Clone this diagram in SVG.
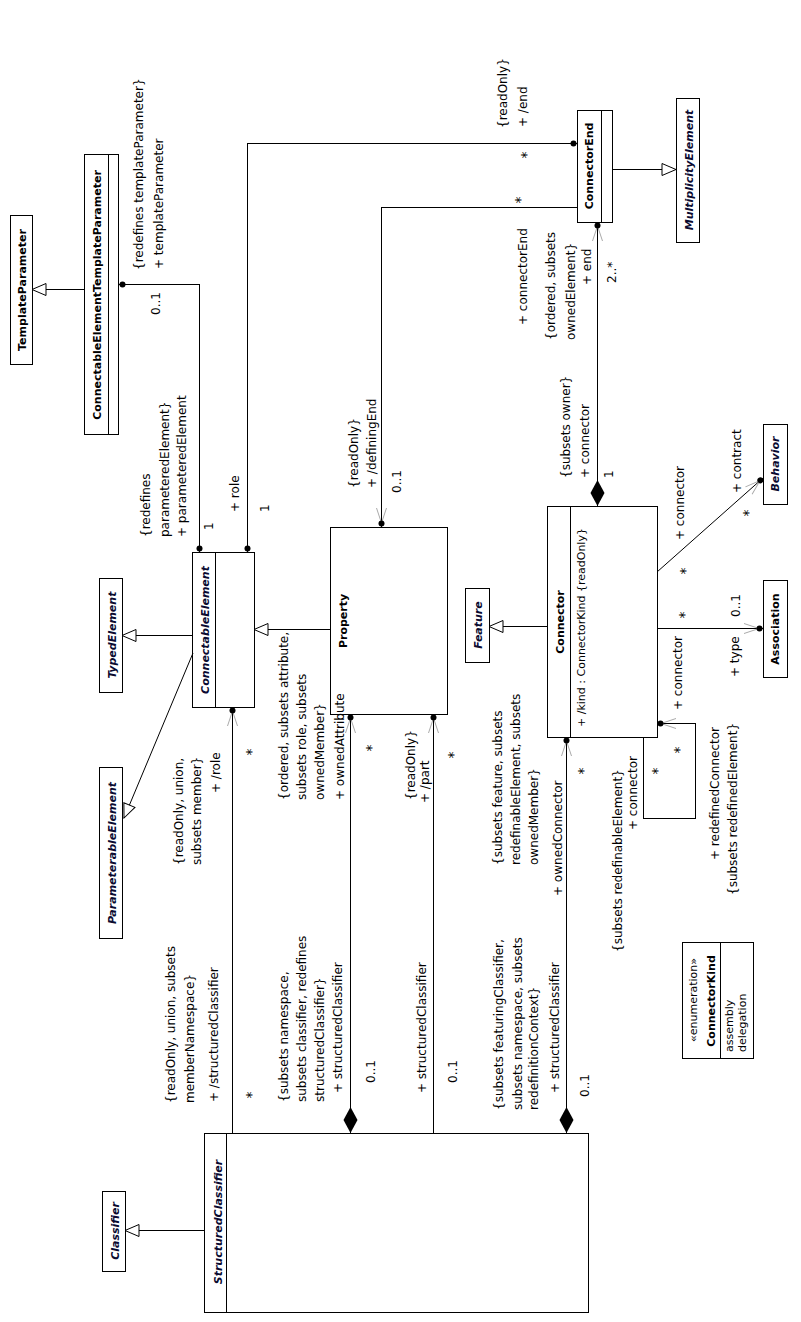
<svg xmlns="http://www.w3.org/2000/svg" width="801" height="1322" viewBox="0 0 801 1322">
<style>
.box{fill:#fff;stroke:#000;stroke-width:1;shape-rendering:crispEdges}
.dv{stroke:#000;stroke-width:1;shape-rendering:crispEdges}
.ln{fill:none;stroke:#000;stroke-width:1}
.cr{shape-rendering:crispEdges}
.nm{font-family:"DejaVu Sans",sans-serif;font-size:11px;font-weight:bold;text-anchor:middle;fill:#000}
.ab{font-style:italic;fill:#0a0a30}
.at{font-family:"DejaVu Sans",sans-serif;font-size:11px;fill:#000}
.lb{font-family:"DejaVu Sans",sans-serif;font-size:12px;fill:#000}
.mid{text-anchor:middle}
.ast{font-size:14px;text-anchor:middle}
</style>
<defs>
<marker id="gen" viewBox="-15 -7 16 14" refX="0" refY="0" markerWidth="16" markerHeight="14" markerUnits="userSpaceOnUse" orient="auto-start-reverse">
<path d="M0,0 L-14,-6 L-14,6 Z" fill="#fff" stroke="#000" stroke-width="1"/>
</marker>
<marker id="dia" viewBox="-27 -8 28 16" refX="0" refY="0" markerWidth="28" markerHeight="16" markerUnits="userSpaceOnUse" orient="auto-start-reverse">
<path d="M0,0 L-13,-7 L-26,0 L-13,7 Z" fill="#000"/>
</marker>
<marker id="dot" viewBox="-8 -4 9 8" refX="0" refY="0" markerWidth="9" markerHeight="8" markerUnits="userSpaceOnUse" orient="auto-start-reverse">
<circle cx="-3.5" cy="0" r="3" fill="#000"/>
</marker>
<marker id="nav" viewBox="-20 -6 21 12" refX="0" refY="0" markerWidth="21" markerHeight="12" markerUnits="userSpaceOnUse" orient="auto-start-reverse">
<path d="M-19,-5 L-4,0 L-19,5" fill="none" stroke="#aaa" stroke-width="1"/>
<circle cx="-3.5" cy="0" r="3" fill="#000"/>
</marker>
</defs>
<rect width="801" height="1322" fill="#fff"/>

<!-- classes -->
<g id="TemplateParameter">
<rect class="box" x="10.5" y="215.5" width="22" height="149"/>
<text class="nm" transform="translate(26,290) rotate(-90)">TemplateParameter</text>
</g>
<g id="ConnectableElementTemplateParameter">
<rect class="box" x="84.5" y="154.5" width="34" height="280"/>
<line class="dv" x1="108.5" y1="154.5" x2="108.5" y2="434.5"/>
<text class="nm" transform="translate(101,295) rotate(-90)">ConnectableElementTemplateParameter</text>
</g>
<g id="TypedElement">
<rect class="box" x="99.5" y="578.5" width="23" height="114"/>
<text class="nm ab" transform="translate(116,635) rotate(-90)">TypedElement</text>
</g>
<g id="ParameterableElement">
<rect class="box" x="99.5" y="767.5" width="23" height="171"/>
<text class="nm ab" transform="translate(116,853) rotate(-90)">ParameterableElement</text>
</g>
<g id="ConnectableElement">
<rect class="box" x="192.5" y="552.5" width="62" height="155"/>
<line class="dv" x1="215.5" y1="552.5" x2="215.5" y2="707.5"/>
<text class="nm ab" transform="translate(209,630) rotate(-90)">ConnectableElement</text>
</g>
<g id="Property">
<rect class="box" x="330.5" y="527.5" width="117" height="187"/>
<text class="nm" transform="translate(347,621) rotate(-90)">Property</text>
</g>
<g id="Feature">
<rect class="box" x="465.5" y="588.5" width="24" height="74"/>
<text class="nm ab" transform="translate(482,625) rotate(-90)">Feature</text>
</g>
<g id="Connector">
<rect class="box" x="547.5" y="506.5" width="110" height="231"/>
<line class="dv" x1="570.5" y1="506.5" x2="570.5" y2="737.5"/>
<text class="nm" transform="translate(564,622) rotate(-90)">Connector</text>
<text class="at" transform="translate(585,727) rotate(-90)">+ /kind : ConnectorKind {readOnly}</text>
</g>
<g id="ConnectorEnd">
<rect class="box" x="577.5" y="110.5" width="35" height="112"/>
<line class="dv" x1="601.5" y1="110.5" x2="601.5" y2="222.5"/>
<text class="nm" transform="translate(593,166) rotate(-90)">ConnectorEnd</text>
</g>
<g id="MultiplicityElement">
<rect class="box" x="676.5" y="98.5" width="23" height="144"/>
<text class="nm ab" transform="translate(693,170) rotate(-90)">MultiplicityElement</text>
</g>
<g id="Behavior">
<rect class="box" x="763.5" y="424.5" width="24" height="80"/>
<text class="nm ab" transform="translate(779,464) rotate(-90)">Behavior</text>
</g>
<g id="Association">
<rect class="box" x="763.5" y="580.5" width="24" height="97"/>
<text class="nm" transform="translate(779,629) rotate(-90)">Association</text>
</g>
<g id="StructuredClassifier">
<rect class="box" x="204.5" y="1133.5" width="384" height="179"/>
<line class="dv" x1="226.5" y1="1133.5" x2="226.5" y2="1312.5"/>
<text class="nm ab" transform="translate(222,1222) rotate(-90)">StructuredClassifier</text>
</g>
<g id="Classifier">
<rect class="box" x="102.5" y="1191.5" width="23" height="80"/>
<text class="nm ab" transform="translate(119,1231) rotate(-90)">Classifier</text>
</g>
<g id="ConnectorKind">
<rect class="box" x="682.5" y="942.5" width="71" height="116"/>
<line class="dv" x1="720.5" y1="942.5" x2="720.5" y2="1058.5"/>
<text class="at mid" transform="translate(697,1000) rotate(-90)">«enumeration»</text>
<text class="nm" transform="translate(715,1001) rotate(-90)">ConnectorKind</text>
<text class="at" transform="translate(733,1052) rotate(-90)">assembly</text>
<text class="at" transform="translate(746,1052) rotate(-90)">delegation</text>
</g>

<!-- connectors -->
<g id="connectors">
<!-- generalizations -->
<path class="ln cr" d="M84,289.5 H32" marker-end="url(#gen)"/>
<path class="ln cr" d="M192,635.5 H122" marker-end="url(#gen)"/>
<path class="ln" d="M193,653 L124,818" marker-end="url(#gen)"/>
<path class="ln cr" d="M330,629.5 H254" marker-end="url(#gen)"/>
<path class="ln cr" d="M547,626.5 H489" marker-end="url(#gen)"/>
<path class="ln cr" d="M612,169.5 H676" marker-end="url(#gen)"/>
<path class="ln cr" d="M204,1230.5 H125" marker-end="url(#gen)"/>
<!-- associations -->
<path class="ln cr" d="M119,284.5 H199.5 V552" marker-start="url(#dot)" marker-end="url(#dot)"/>
<path class="ln cr" d="M247.5,552 V143.5 H577" marker-start="url(#dot)" marker-end="url(#dot)"/>
<path class="ln cr" d="M577,207.5 H381.5 V527" marker-end="url(#nav)"/>
<path class="ln cr" d="M232.5,1133 V707" marker-end="url(#nav)"/>
<path class="ln cr" d="M350.5,1133 V714" marker-start="url(#dia)" marker-end="url(#nav)"/>
<path class="ln cr" d="M433.5,1133 V714" marker-end="url(#nav)"/>
<path class="ln cr" d="M566.5,1133 V737" marker-start="url(#dia)" marker-end="url(#nav)"/>
<path class="ln cr" d="M597.5,506 V222" marker-start="url(#dia)" marker-end="url(#nav)"/>
<path class="ln" d="M657,572 L763,478" marker-end="url(#nav)"/>
<path class="ln cr" d="M657,628.5 H763" marker-end="url(#nav)"/>
<path class="ln cr" d="M643.5,737 V818.5 H695.5 V723.5 H657" marker-end="url(#nav)"/>

<!-- association end labels -->
<g class="lb">
<text transform="translate(143,270) rotate(-90)">{redefines templateParameter}</text>
<text transform="translate(163,269) rotate(-90)">+ templateParameter</text>
<text transform="translate(160,315) rotate(-90)">0..1</text>
<text transform="translate(150,537) rotate(-90)">{redefines</text>
<text transform="translate(169,537) rotate(-90)">parameteredElement}</text>
<text transform="translate(186,537) rotate(-90)">+ parameteredElement</text>
<text transform="translate(213,530) rotate(-90)">1</text>

<text transform="translate(239,512) rotate(-90)">+ role</text>
<text transform="translate(269,512) rotate(-90)">1</text>
<text transform="translate(507,128) rotate(-90)">{readOnly}</text>
<text transform="translate(527,127) rotate(-90)">+ /end</text>
<text class="ast" transform="translate(531,155) rotate(-90)">*</text>

<text class="ast" transform="translate(525,200) rotate(-90)">*</text>
<text transform="translate(527,325) rotate(-90)">+ connectorEnd</text>
<text transform="translate(358,488) rotate(-90)">{readOnly}</text>
<text transform="translate(376,488) rotate(-90)">+ /definingEnd</text>
<text transform="translate(401,493) rotate(-90)">0..1</text>

<text transform="translate(183,865) rotate(-90)">{readOnly, union,</text>
<text transform="translate(201,865) rotate(-90)">subsets member}</text>
<text transform="translate(220,793) rotate(-90)">+ /role</text>
<text class="ast" transform="translate(255.5,752) rotate(-90)">*</text>
<text transform="translate(175,1103) rotate(-90)">{readOnly, union, subsets</text>
<text transform="translate(194,1103) rotate(-90)">memberNamespace}</text>
<text transform="translate(218,1102) rotate(-90)">+ /structuredClassifier</text>
<text class="ast" transform="translate(255.5,1095) rotate(-90)">*</text>

<text transform="translate(288,800) rotate(-90)">{ordered, subsets attribute,</text>
<text transform="translate(306,800) rotate(-90)">subsets role, subsets</text>
<text transform="translate(324,800) rotate(-90)">ownedMember}</text>
<text transform="translate(344,800) rotate(-90)">+ ownedAttribute</text>
<text class="ast" transform="translate(375.5,748) rotate(-90)">*</text>
<text transform="translate(288,1102) rotate(-90)">{subsets namespace,</text>
<text transform="translate(306,1102) rotate(-90)">subsets classifier, redefines</text>
<text transform="translate(324,1102) rotate(-90)">structuredClassifier}</text>
<text transform="translate(342,1093) rotate(-90)">+ structuredClassifier</text>
<text transform="translate(375,1083) rotate(-90)">0..1</text>

<text transform="translate(415,800) rotate(-90)">{readOnly}</text>
<text transform="translate(429,803) rotate(-90)">+ /part</text>
<text class="ast" transform="translate(458,755) rotate(-90)">*</text>
<text transform="translate(426,1093) rotate(-90)">+ structuredClassifier</text>
<text transform="translate(457,1083) rotate(-90)">0..1</text>

<text transform="translate(502,865) rotate(-90)">{subsets feature, subsets</text>
<text transform="translate(520,865) rotate(-90)">redefinableElement, subsets</text>
<text transform="translate(538,865) rotate(-90)">ownedMember}</text>
<text transform="translate(562,896) rotate(-90)">+ ownedConnector</text>
<text class="ast" transform="translate(588,771) rotate(-90)">*</text>
<text transform="translate(503,1110) rotate(-90)">{subsets featuringClassifier,</text>
<text transform="translate(522,1110) rotate(-90)">subsets namespace, subsets</text>
<text transform="translate(538,1110) rotate(-90)">redefinitionContext}</text>
<text transform="translate(559,1093) rotate(-90)">+ structuredClassifier</text>
<text transform="translate(589,1097) rotate(-90)">0..1</text>

<text transform="translate(570,478) rotate(-90)">{subsets owner}</text>
<text transform="translate(589,478) rotate(-90)">+ connector</text>
<text transform="translate(613,478) rotate(-90)">1</text>
<text transform="translate(555,340) rotate(-90)">{ordered, subsets</text>
<text transform="translate(575,340) rotate(-90)">ownedElement}</text>
<text transform="translate(591,285) rotate(-90)">+ end</text>
<text transform="translate(616,283) rotate(-90)">2..*</text>

<text transform="translate(684,540) rotate(-90)">+ connector</text>
<text class="ast" transform="translate(690,571) rotate(-90)">*</text>
<text class="ast" transform="translate(752.5,513) rotate(-90)">*</text>
<text transform="translate(741,493) rotate(-90)">+ contract</text>

<text transform="translate(682,710) rotate(-90)">+ connector</text>
<text class="ast" transform="translate(688.5,615) rotate(-90)">*</text>
<text transform="translate(740,617) rotate(-90)">0..1</text>
<text transform="translate(739,677) rotate(-90)">+ type</text>

<text transform="translate(622,952) rotate(-90)">{subsets redefinableElement}</text>
<text transform="translate(637,830) rotate(-90)">+ connector</text>
<text class="ast" transform="translate(662,771) rotate(-90)">*</text>
<text class="ast" transform="translate(683.5,750) rotate(-90)">*</text>
<text transform="translate(719,860) rotate(-90)">+ redefinedConnector</text>
<text transform="translate(737,895) rotate(-90)">{subsets redefinedElement}</text>
</g>
</g>
</svg>
